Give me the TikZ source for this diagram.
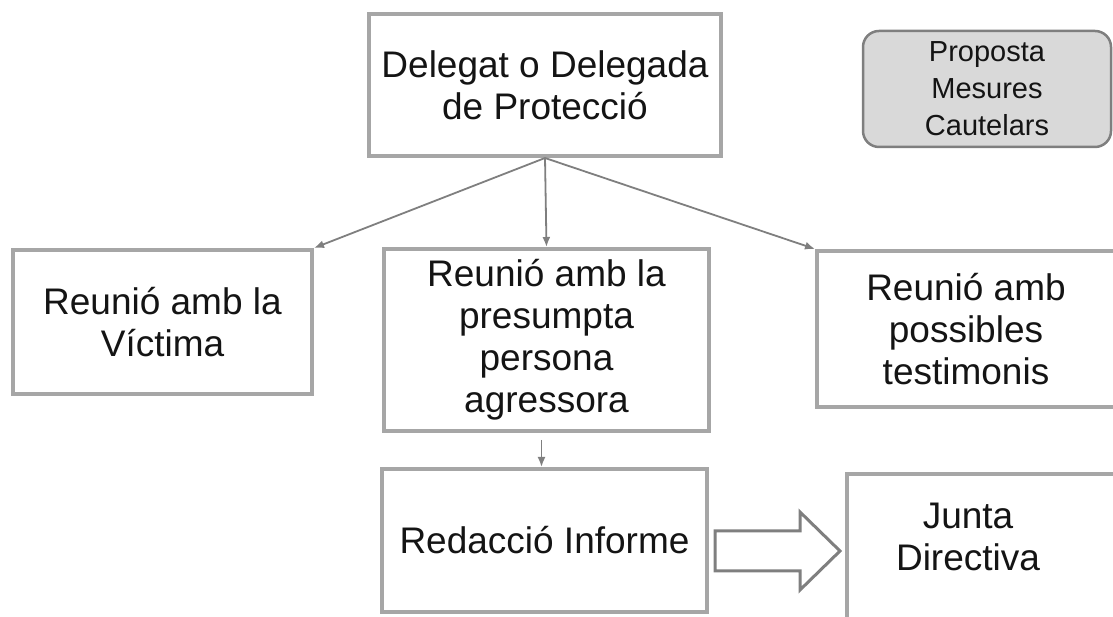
\documentclass[tikz,border=0pt]{standalone}
\usepackage{fontspec}
\setmainfont{Liberation Sans}
\usepackage{xcolor}
\usepackage{tikz}
\usetikzlibrary{arrows.meta}

\definecolor{boxgray}{HTML}{A6A6A6}
\definecolor{darkline}{HTML}{7F7F7F}
\definecolor{fillgray}{HTML}{D9D9D9}
\definecolor{txtblack}{HTML}{141414}

\begin{document}
\begin{tikzpicture}[x=1pt,y=1pt,
    box/.style={draw=boxgray, line width=4pt, fill=white, align=center,
        text=txtblack, inner sep=0pt, font=\fontsize{37}{42}\selectfont},
    cautbox/.style={draw=darkline, line width=2.5pt, fill=fillgray, rounded corners=16pt,
        align=center, text=txtblack, inner sep=0pt, font=\fontsize{29}{37}\selectfont},
    conn/.style={draw=darkline, line width=1.8pt, -{Latex[length=10pt,width=8pt]}},
    blockarrow/.style={draw=darkline, line width=3pt, fill=white, line join=miter}
]
    % 画布大小
    \useasboundingbox (0,0) rectangle (1113,617);
    \clip (0,0) rectangle (1113,617);

    % 方框
    \node[box, minimum width=352, minimum height=142] (deleg) at (545,532) {Delegat o Delegada\\de Protecció};
    \node[cautbox, minimum width=248, minimum height=116] (mesures) at (987,528) {Proposta\\Mesures\\Cautelars};
    \node[box, minimum width=299, minimum height=144] (victima) at (162.5,295) {Reunió amb la\\Víctima};
    \node[box, minimum width=325, minimum height=182] (agressor) at (546.5,277) {Reunió amb la\\presumpta\\persona\\agressora};
    \node[box, minimum width=298, minimum height=156] (testimonis) at (966,288) {Reunió amb\\possibles\\testimonis};
    \node[box, minimum width=325, minimum height=143] (redaccio) at (544.5,76.5) {Redacció Informe};
    \node[box, minimum width=283, minimum height=166] (junta) at (988.5,60) {};
    \node[align=center, text=txtblack, font=\fontsize{37}{42}\selectfont] (juntatxt) at (968,80) {Junta\\Directiva};

    % 箭头
    \draw[conn] (deleg.south) -- (victima.north east);
    \draw[conn] (deleg.south) -- (agressor.north);
    \draw[conn] (deleg.south) -- (testimonis.north west);
    \draw[conn] ([xshift=-5pt,yshift=-7pt]agressor.south) -- ([xshift=-3pt]redaccio.north);

    % 空心箭头
    \coordinate (ba) at ([xshift=6pt,yshift=-10.5pt]redaccio.east);
    \draw[blockarrow] ([yshift=20pt]ba) -- ++(85,0) -- ++(0,19) -- ++(40,-39)
        -- ++(-40,-39) -- ++(0,19) -- ++(-85,0) -- cycle;
\end{tikzpicture}
\end{document}
